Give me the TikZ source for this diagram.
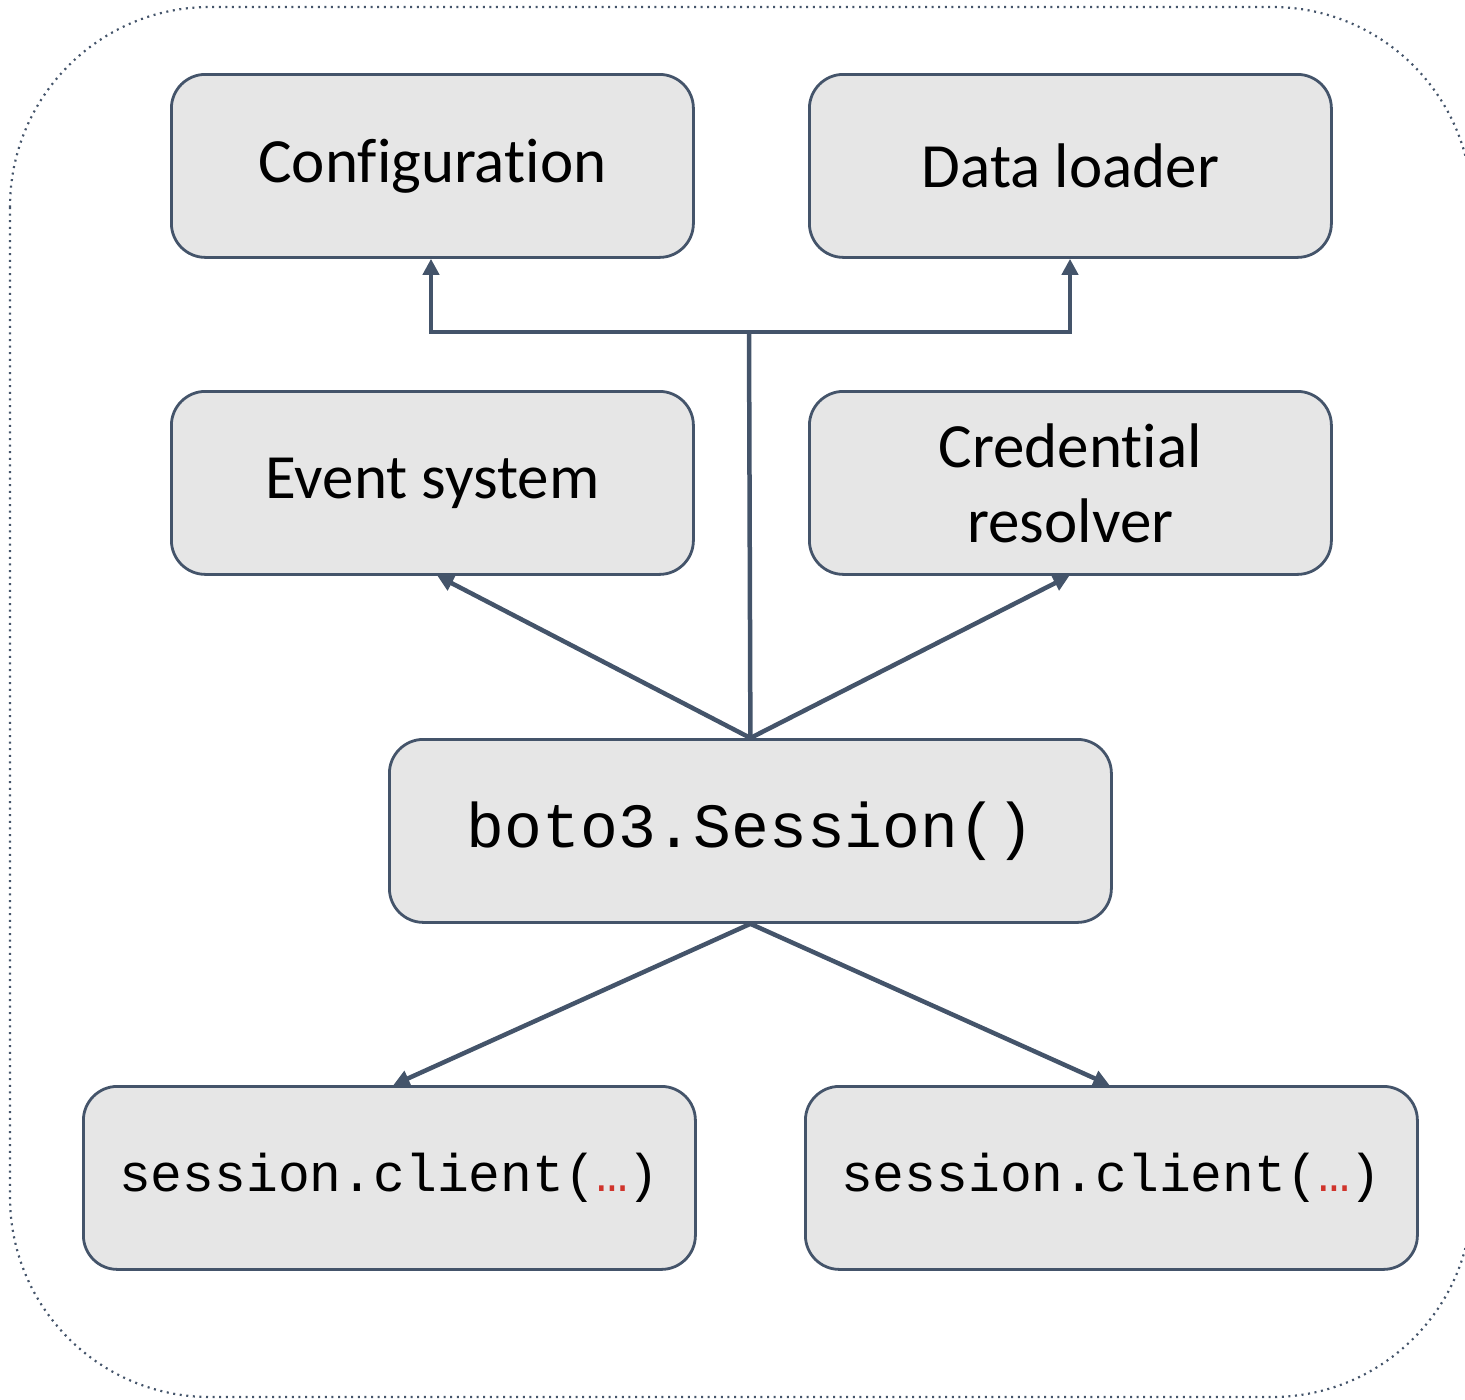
\documentclass[tikz,border=0pt]{standalone}
\usepackage{fontspec}
\setmainfont{Carlito}[Ligatures={NoCommon}]
\setmonofont{Liberation Mono}
\usetikzlibrary{arrows.meta}
\definecolor{edge}{HTML}{44546A}
\definecolor{boxfill}{HTML}{E6E6E6}
\definecolor{dotred}{HTML}{D0342C}
\begin{document}
\begin{tikzpicture}[x=1pt,y=-1pt,
  blk/.style={draw=edge,line width=2.8pt,fill=boxfill,rounded corners=34pt,
    minimum width=522pt,minimum height=183pt,inner sep=0pt,anchor=north west,
    align=center,font=\fontsize{63}{75}\selectfont},
  codeblk/.style={blk,font=\fontsize{53}{60}\ttfamily},
  conn/.style={draw=edge,line width=4.5pt,-{Triangle[length=16pt,width=16pt]}},
  plainconn/.style={draw=edge,line width=4.5pt}]
\useasboundingbox (0,0) rectangle (1465,1400);
\begin{scope}
\clip (0,0) rectangle (1465,1400);
\draw[edge,line width=2.2pt,dash pattern=on 2pt off 4.6pt,rounded corners=200pt] (10,7) rectangle (1472,1397);
\end{scope}
\node[blk] (conf) at (170,73) {Configuration};
\node[blk] (data) at (808,73) {Data loader};
\node[blk] (event) at (170,390) {Event system};
\node[blk] (cred) at (808,390) {Credential\\resolver};
\node[blk,minimum width=722pt,font=\fontsize{63}{70}\ttfamily] (sess) at (388,738) {boto3.Session()};
\node[codeblk,minimum width=612pt] (cl1) at (82,1085) {session.client(\textcolor{dotred}{…})};
\node[codeblk,minimum width=612pt] (cl2) at (804,1085) {session.client(\textcolor{dotred}{…})};
\coordinate (j) at (749,332);
\coordinate (jl) at (431,332);
\coordinate (jr) at (1070,332);
\draw[plainconn] (sess.north) -- (j);
\draw[conn,line join=miter] (j) -- (jl) -- (jl |- conf.south);
\draw[conn,line join=miter] (j) -- (jr) -- (jr |- data.south);
\draw[conn] (sess.north) -- ([xshift=5pt]event.south);
\draw[conn] (sess.north) -- ([xshift=-1pt]cred.south);
\draw[conn] (sess.south) -- ([xshift=4pt]cl1.north);
\draw[conn] (sess.south) -- ([xshift=-2pt]cl2.north);
\end{tikzpicture}
\end{document}
